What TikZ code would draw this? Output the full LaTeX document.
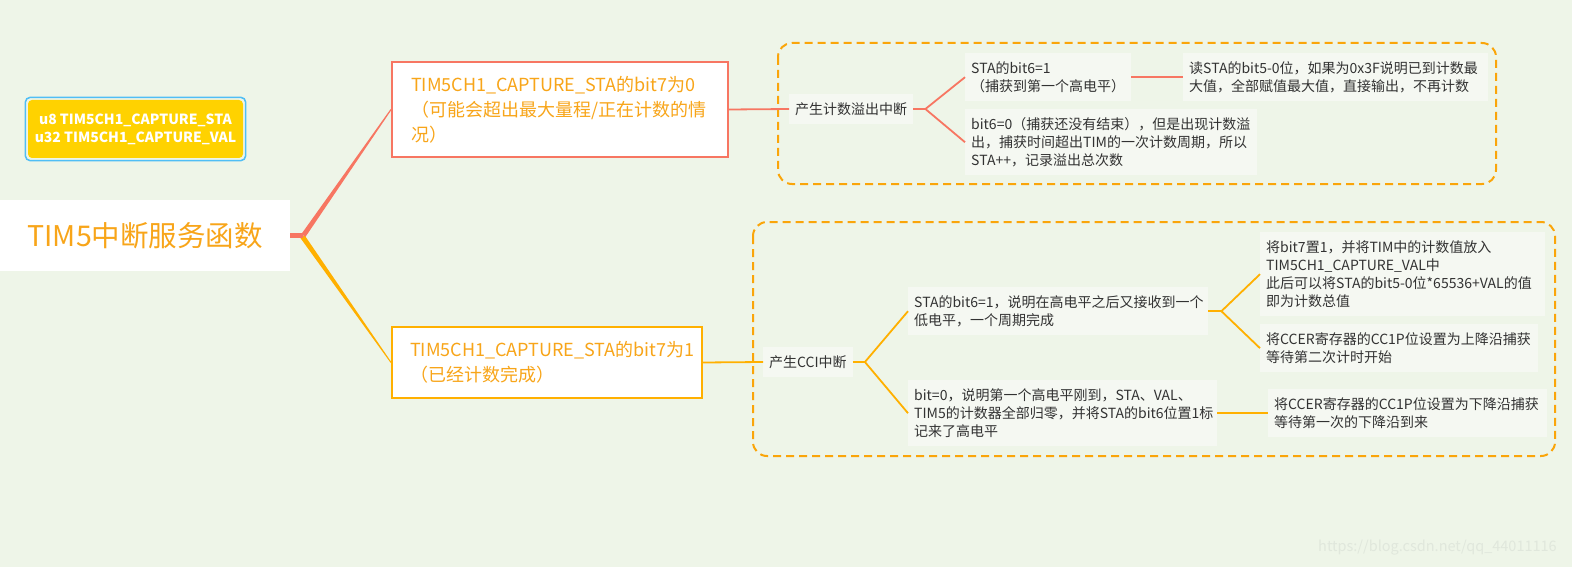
\documentclass[tikz,border=0pt]{standalone}
\usepackage{fontspec}
\setmainfont{Noto Sans CJK SC}
\usetikzlibrary{calc}
\definecolor{bg}{RGB}{238,245,232}
\definecolor{otext}{RGB}{248,165,25}
\definecolor{coral}{RGB}{247,118,98}
\definecolor{gold}{RGB}{255,176,0}
\definecolor{dashc}{RGB}{250,165,10}
\definecolor{nodefill}{RGB}{245,248,242}
\definecolor{dtext}{RGB}{50,50,50}
\definecolor{vblue}{RGB}{80,190,245}
\definecolor{vyellow}{RGB}{255,210,0}
\definecolor{wmark}{RGB}{224,231,220}
\begin{document}
\begin{tikzpicture}[x=1pt,y=-1pt,
  leaf/.style 2 args={fill=nodefill, text=dtext, anchor=north west, align=left,
    inner xsep=6pt, inner ysep=0pt, text width=#1, minimum height=#2,
    font=\fontsize{14}{18}\selectfont},
  mid/.style={fill=nodefill, text=dtext, anchor=west, inner xsep=6pt, inner ysep=0pt,
    minimum height=30pt, font=\fontsize{14}{18}\selectfont},
  branch/.style 2 args={fill=white, draw=#1, line width=2pt, text=otext, anchor=west,
    align=left, inner xsep=18pt, inner ysep=0pt, text width=274pt, minimum height=#2,
    font=\fontsize{18}{25}\selectfont},
  redline/.style={draw=coral, line width=1.8pt},
  goldline/.style={draw=gold, line width=1.8pt},
  frame/.style={draw=dashc, line width=2pt, dash pattern=on 8pt off 5pt, rounded corners=14pt},
]
% background / bounding box
\fill[bg] (0,0) rectangle (1572,567);
\useasboundingbox (0,0) rectangle (1572,567);

% variables box
\node[fill=vyellow, rounded corners=4pt, minimum width=215pt, minimum height=58pt,
  inner sep=0pt, align=center, text=white,
  font=\bfseries\fontsize{14}{18}\selectfont] (vars) at (135.5,129)
  {u8 TIM5CH1\_CAPTURE\_STA\\u32 TIM5CH1\_CAPTURE\_VAL};
\draw[vblue, line width=1.5pt, rounded corners=5pt]
  ($(vars.south west)+(-2.5,2.5)$) rectangle ($(vars.north east)+(2.5,-2.5)$);

% root
\node[fill=white, anchor=west, minimum width=290pt, minimum height=71pt, inner sep=0pt,
  text=otext, font=\fontsize{28.5}{30}\selectfont] (root) at (0,235.5) {TIM5中断服务函数};

% main branches
\node[branch={coral}{95pt}, inner xsep=19pt, text width=298pt] (top) at (391,109.5)
  {TIM5CH1\_CAPTURE\_STA的bit7为0\\（可能会超出最大量程/正在计数的情\\况）};
\node[branch={gold}{71pt}] (bot) at (391,362.5)
  {TIM5CH1\_CAPTURE\_STA的bit7为1\\（已经计数完成）};

% tapered connectors from root
\fill[gold] ($(root.east)+(14.04,-0.44)$) -- ($(root.east)+(9.96,2.44)$)
  -- ($(bot.west)+(-0.4,0.3)$) -- ($(bot.west)+(0.4,-0.3)$) -- cycle;
\fill[coral] ($(root.east)+(0,-2.5)$) rectangle ($(root.east)+(13,2.5)$);
\fill[coral] ($(root.east)+(10.95,-1.4)$) -- ($(root.east)+(15.05,1.4)$)
  -- ($(top.west)+(0.5,0.3)$) -- ($(top.west)+(-0.5,-0.3)$) -- cycle;

% dashed frames
\draw[frame] (778,43) rectangle (1496,184);
\draw[frame] (753,222) rectangle (1555,456);

% upper subtree
\node[mid] (ovf) at (789,109) {产生计数溢出中断};
\node[leaf={154pt}{48pt}] (c1) at (965,53) {STA的bit6=1\\（捕获到第一个高电平）};
\node[leaf={280pt}{66pt}] (c2) at (965,109)
  {bit6=0（捕获还没有结束），但是出现计数溢\\出，捕获时间超出TIM的一次计数周期，所以\\STA++，记录溢出总次数};
\node[leaf={293pt}{48pt}] (g1) at (1183,53)
  {读STA的bit5-0位，如果为0x3F说明已到计数最\\大值，全部赋值最大值，直接输出，不再计数};

\draw[redline] (top.east) -- (ovf.west);
\draw[redline] (ovf.east) -- ++(12,0) coordinate (b1);
\draw[redline] (b1) -- (c1.west);
\draw[redline] (b1) -- (c2.west);
\draw[redline] (c1.east) -- (g1.west);

% lower subtree
\node[mid] (cci) at (763,362) {产生CCI中断};
\node[leaf={288pt}{48pt}] (ca) at (908,287)
  {STA的bit6=1，说明在高电平之后又接收到一个\\低电平，一个周期完成};
\node[leaf={297pt}{66pt}] (cb) at (908,380)
  {bit=0，说明第一个高电平刚到，STA、VAL、\\TIM5的计数器全部归零，并将STA的bit6位置1标\\记来了高电平};
\node[leaf={273pt}{84pt}] (ga1) at (1260,232)
  {将bit7置1，并将TIM中的计数值放入\\TIM5CH1\_CAPTURE\_VAL中\\此后可以将STA的bit5-0位*65536+VAL的值\\即为计数总值};
\node[leaf={266pt}{48pt}] (ga2) at (1260,324)
  {将CCER寄存器的CC1P位设置为上降沿捕获\\等待第二次计时开始};
\node[leaf={267pt}{48pt}] (gb1) at (1268,389)
  {将CCER寄存器的CC1P位设置为下降沿捕获\\等待第一次的下降沿到来};

\draw[goldline] (bot.east) -- (cci.west);
\draw[goldline] (cci.east) -- ++(12,0) coordinate (b2);
\draw[goldline] (b2) -- (ca.west);
\draw[goldline] (b2) -- (cb.west);
\draw[goldline] (ca.east) -- ++(13,0) coordinate (b3);
\draw[goldline] (b3) -- (ga1.west);
\draw[goldline] (b3) -- (ga2.west);
\draw[goldline] (cb.east) -- (gb1.west);

% watermark
\node[anchor=west, inner sep=0pt, text=wmark, font=\fontsize{14.5}{16}\selectfont] (wm)
  at (1318,548) {https://blog.csdn.net/qq\_44011116};
\end{tikzpicture}
\end{document}
